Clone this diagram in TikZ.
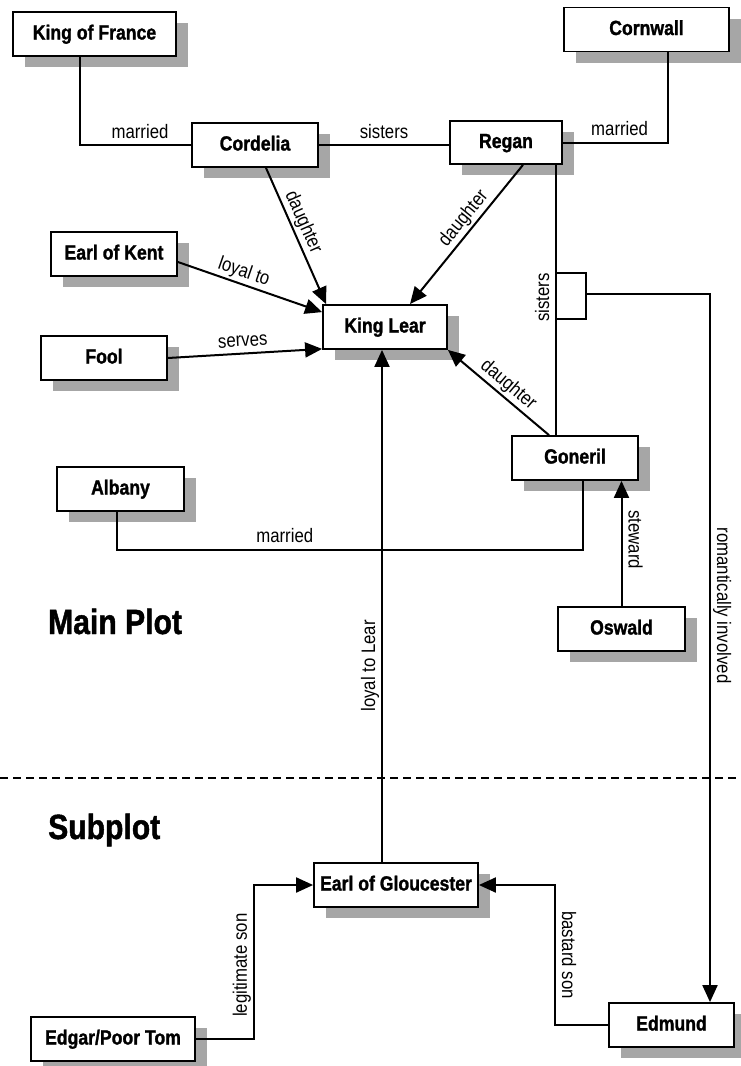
\documentclass[tikz,border=0pt]{standalone}
\usepackage{fontspec}
\setmainfont{Liberation Sans}[FakeStretch=0.86, BoldFeatures={FakeBold=1.3}]
\usetikzlibrary{arrows.meta,shadows,calc}

\begin{document}
\begin{tikzpicture}[x=1pt,y=-1pt,
  box/.style={draw, line width=1.8pt, fill=white, minimum height=44pt, inner sep=0pt,
    font=\fontsize{20.5}{24}\selectfont\bfseries, text height=15pt, text depth=4pt,
    drop shadow={shadow xshift=12pt, shadow yshift=-11pt, fill=gray!70, opacity=1}},
  link/.style={line width=2pt},
  arr/.style={link, -{Triangle[length=17pt,width=15pt]}},
  lbl/.style={font=\fontsize{19.5}{22}\selectfont, inner sep=2pt, text height=14pt, text depth=4pt},
  head/.style={font=\fontsize{35}{40}\selectfont\bfseries, inner sep=0pt, anchor=base west}
]
\useasboundingbox (0,0) rectangle (740,1066);

% characters
\node[box, minimum width=163pt] (kof)        at (94.5,34)   {King of France};
\node[box, minimum width=165pt] (cornwall)   at (646.5,29.5){Cornwall};
\node[box, minimum width=126pt] (cordelia)   at (255,145)   {Cordelia};
\node[box, minimum width=112pt, minimum height=43pt] (regan) at (506,142.5) {Regan};
\node[box, minimum width=126pt] (kent)       at (114,254)   {Earl of Kent};
\node[box, minimum width=124pt] (lear)       at (385,327)   {King Lear};
\node[box, minimum width=126pt] (fool)       at (104,358)   {Fool};
\node[box, minimum width=126pt] (goneril)    at (575,458)   {Goneril};
\node[box, minimum width=127pt] (albany)     at (120.5,489) {Albany};
\node[box, minimum width=127pt] (oswald)     at (621.5,629) {Oswald};
\node[box, minimum width=164pt] (gloucester) at (396,885)   {Earl of Gloucester};
\node[box, minimum width=164pt] (edgar)      at (113,1039)  {Edgar/Poor Tom};
\node[box, minimum width=125pt] (edmund)     at (671.5,1025){Edmund};

% section headings and divider
\node[head] (mainplot) at (48,634) {Main Plot};
\node[head] (subplot)  at (48,839) {Subplot};
\draw[line width=1.4pt, dash pattern=on 8pt off 5pt] (0,778) -- (740,778);

% marriages and sisters
\draw[link] ([xshift=-14.5pt]kof.south) |- (cordelia.west)
  node[lbl, pos=0.77, above] {married};
\draw[link] (cordelia.east) -- (cordelia.east -| regan.west)
  node[lbl, midway, above] {sisters};
\draw[link] ([xshift=21.5pt]cornwall.south) |- (regan.east)
  node[lbl, pos=0.73, above] {married};
\draw[link] ([xshift=50pt]regan.south) -- ([xshift=50pt]regan.south |- goneril.north)
  node[lbl, pos=0.49, rotate=90, anchor=south] {sisters};
\draw[link] ([xshift=-3.5pt]albany.south) -- ++(0,38) -| ([xshift=8pt]goneril.south)
  node[lbl, pos=0.18, above] {married};

% bracket round the sisters' line
\coordinate (bt) at (556,273);
\coordinate (bb) at (556,319);
\coordinate (bkt) at (586,294);
\draw[link] (bt) -| (bkt |- bb) -- (bb);
\draw[arr] (bkt) -| ([xshift=38.5pt]edmund.north)
  node[lbl, pos=0.72, rotate=-90, anchor=south] {romantically involved};

% ties to King Lear
\draw[arr] ([xshift=11pt]cordelia.south) -- ([xshift=4pt]lear.north west)
  node[lbl, pos=0.435, above, sloped] {daughter};
\draw[arr] ([xshift=17pt]regan.south) -- ([xshift=25pt]lear.north)
  node[lbl, pos=0.44, above, sloped] {daughter};
\draw[arr] ([yshift=-8pt]kent.east) -- ([yshift=-8pt]lear.north west)
  node[lbl, pos=0.43, above, sloped] {loyal to};
\draw[arr] (fool.east) -- ([yshift=1pt]lear.south west)
  node[lbl, pos=0.49, above, sloped] {serves};
\draw[arr] ([xshift=-26pt]goneril.north) -- (lear.south east)
  node[lbl, pos=0.48, above, sloped] {daughter};
\draw[arr] (oswald.north) -- (oswald.north |- goneril.south)
  node[lbl, pos=0.53, rotate=-90, anchor=south] {steward};
\draw[arr] ([xshift=-14pt]gloucester.north) -- ([xshift=-14pt]gloucester.north |- lear.south)
  node[lbl, pos=0.383, rotate=90, anchor=south] {loyal to Lear};

% subplot
\draw[arr] (edgar.east) -- ++(58,0) |- (gloucester.west)
  node[lbl, pos=0.24, rotate=90, anchor=south] {legitimate son};
\draw[arr] (edmund.west) -- ++(-53,0) |- (gloucester.east)
  node[lbl, pos=0.25, rotate=-90, anchor=south] {bastard son};
\end{tikzpicture}
\end{document}
